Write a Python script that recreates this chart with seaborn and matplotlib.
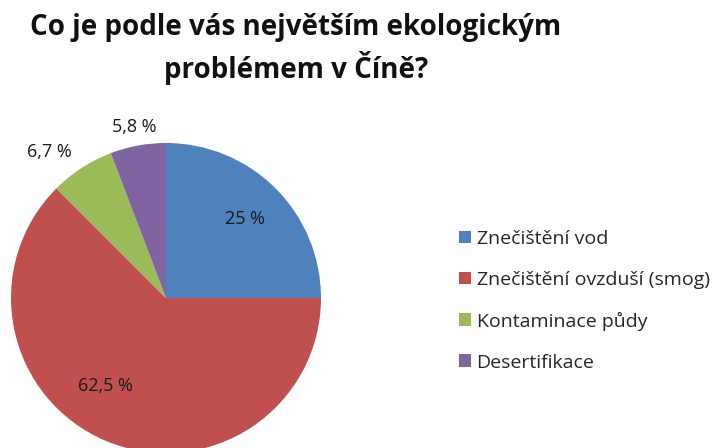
"""
Koláčový graf: největší ekologický problém v Číně
"""
import numpy as np
import matplotlib
matplotlib.use("Agg")
import matplotlib.pyplot as plt
from matplotlib.patches import Patch
import seaborn as sns

categories = ["Znečištění vod", "Znečištění ovzduší (smog)", "Kontaminace půdy", "Desertifikace"]
shares = [25.0, 62.5, 6.7, 5.8]
colors = ["#4F81BD", "#C0504D", "#9BBB59", "#8064A2"]
title = "Co je podle vás největším ekologickým\nproblémem v Číně?"

sns.set_theme(style="white")
plt.rcParams["font.family"] = ["Open Sans", "DejaVu Sans"]

W, H = 726, 448


def fmt_pct(v):
    if float(v).is_integer():
        return f"{int(v)} %"
    return f"{v:.1f}".replace(".", ",") + " %"


fig = plt.figure(figsize=(W / 100, H / 100), dpi=100)
fig.patch.set_facecolor("white")

# pie: center ~(166, 298) px, radius ~155 px
r = 155
cx, cy = 166, 298
ax = fig.add_axes([(cx - r) / W, (H - cy - r) / H, 2 * r / W, 2 * r / H])

wedges, _texts, autotexts = ax.pie(
    shares, colors=colors, startangle=90, counterclock=False,
    autopct=lambda p: "", pctdistance=0.7, radius=1,
    wedgeprops=dict(linewidth=0), textprops=dict(fontsize=13, color="#1a1a1a"),
)

# popisky: uvnitř u velkých výsečí, vně u malých
for w, t, v in zip(wedges, autotexts, shares):
    mid = np.deg2rad((w.theta1 + w.theta2) / 2)
    ha = "center"
    if v < 10:
        d = 1.12
        if np.cos(mid) < -0.3:
            ha = "right"
    elif v > 50:
        mid = mid - np.deg2rad(12)
        d = 0.69
    else:
        d = 0.72
    t.set_position((d * np.cos(mid), d * np.sin(mid)))
    t.set_text(fmt_pct(v))
    t.set_ha(ha)
    t.set_va("center")

ax.set_xlim(-1, 1)
ax.set_ylim(-1, 1)
ax.set_aspect("equal")
ax.axis("off")

fig.text(296 / W, 1 - 49 / H, title, ha="center", va="center",
         fontsize=20, fontweight="bold", color="#111111", linespacing=1.35)

handles = [Patch(facecolor=c, edgecolor="none") for c in colors]
fig.legend(handles, categories, loc="upper left",
           bbox_to_anchor=(449 / W, 1 - 220 / H), frameon=False,
           fontsize=14, handlelength=0.62, handleheight=0.62,
           handletextpad=0.3, labelspacing=1.18, borderpad=0)

fig.savefig("out.png", dpi=100, facecolor="white")
plt.close(fig)
print("  [OK] out.png")
